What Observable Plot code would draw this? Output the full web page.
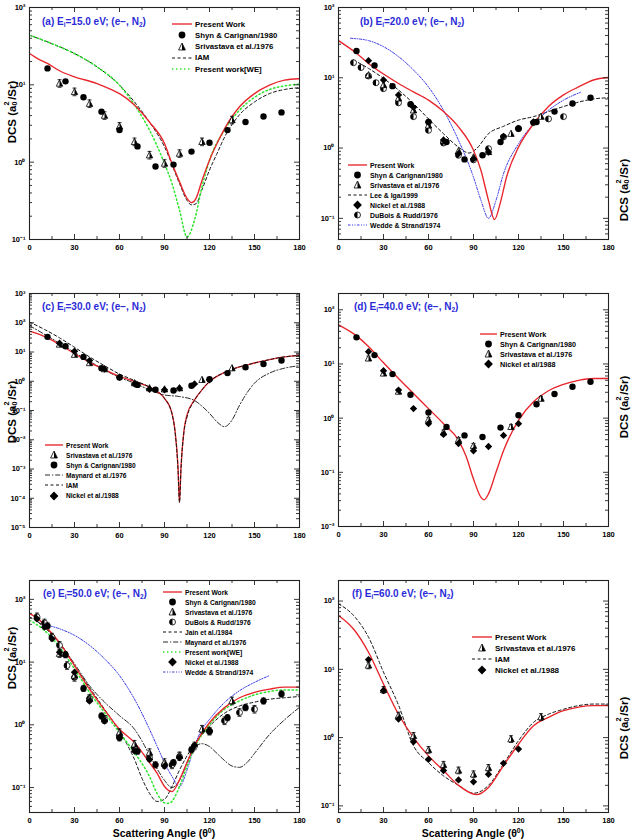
<!DOCTYPE html>
<html>
<head>
<meta charset="utf-8">
<script src="https://cdn.jsdelivr.net/npm/d3@7"></script>
<script src="https://cdn.jsdelivr.net/npm/@observablehq/plot@0.6"></script>
<style>
  body { margin: 0; background: #fff; }
  #fig { position: relative; width: 635px; height: 839px; overflow: hidden; background: #fff;
         font-family: "Liberation Sans", Arial, Helvetica, sans-serif; font-weight: bold; color: #000; }
  .panel { position: absolute; }
  .title { position: absolute; color: #2b2bd8; font-size: 10px; white-space: nowrap; transform: translateY(-50%); }
  .title sub { font-size: 6.5px; vertical-align: -2px; }
  .ylab { position: absolute; font-size: 11.5px; line-height: 1; white-space: nowrap; transform: translate(-50%, -50%) rotate(-90deg); }
  .xlab { position: absolute; font-size: 10.5px; white-space: nowrap; transform: translate(-50%, -50%); }
  .xlab sup { font-size: 7px; }
  .ss { position: relative; display: inline-block; width: 0.5em; height: 1em; }
  .ss span { position: absolute; left: 0.02em; font-size: 0.62em; line-height: 1; }
  .ss .sp { top: 0; }
  .ss .sb { top: 1.1em; }
  .leg { position: absolute; white-space: nowrap; display: flex; align-items: center; transform: translateY(-50%); }
  .leg svg { margin-right: 3px; flex: none; }
</style>
</head>
<body>
<div id="fig"></div>
<script>
// ---------- data: [scattering angle (deg), DCS (a0^2/sr)] ----------
// (a) 15 eV
const aPresent = [[0,25.4],[6,21.5],[12,18.9],[20,15.2],[30,12.7],[45,10.4],[55,8.6],[60,7.7],[70,5.5],[80,3.3],[90,1.74],[95,0.96],[100,0.56],[105,0.34],[108,0.30],[111,0.34],[115,0.58],[120,1.06],[125,1.74],[130,2.7],[140,5.2],[150,7.7],[160,9.9],[170,11.5],[180,12.0]];
const aIAM = [[0,43.9],[15,34],[30,25.4],[45,17.1],[60,9.9],[70,6.0],[80,3.3],[90,1.58],[100,0.53],[105,0.32],[108,0.28],[111,0.29],[115,0.44],[120,0.79],[125,1.29],[130,2.1],[140,4.1],[150,6.0],[160,7.7],[170,8.7],[180,9.2]];
const aWE = [[0,43.9],[15,34],[30,25.4],[45,17.1],[60,9.9],[70,5.5],[80,2.6],[90,0.96],[95,0.53],[100,0.24],[105,0.108],[110,0.178],[115,0.48],[120,1.06],[130,2.6],[140,4.7],[150,6.9],[160,8.7],[170,9.7],[180,10.2]];
const aShyn = [[12,16.3],[24,11.1],[36,6.9],[48,4.5],[60,2.6],[72,1.6],[84,0.88],[96,0.93],[108,1.37],[120,1.78],[132,2.6],[144,3.3],[156,3.9],[168,4.4]];
const aSriv = [[20,10.4],[30,8.1],[40,5.7],[50,4.0],[60,2.9],[70,1.83],[80,1.23],[90,0.96],[100,1.29],[115,1.83],[135,3.5]];

// (b) 20 eV
const bPresent = [[0,33.8],[12,22.3],[20,16.0],[30,11.3],[40,8.3],[50,6.3],[60,4.8],[70,3.3],[80,2.0],[90,0.93],[95,0.48],[100,0.18],[104,0.096],[108,0.17],[112,0.385],[120,1.03],[130,2.2],[140,3.9],[150,5.7],[160,7.4],[170,9.3],[180,10.1]];
const bWedde = [[8,36.5],[20,33.8],[30,27.7],[40,20],[50,12.9],[60,7.4],[70,3.45],[80,1.29],[90,0.385],[95,0.18],[100,0.10],[105,0.18],[110,0.43],[120,1.15],[130,2.2],[140,3.45],[150,4.8],[162,6.3]];
const bLee = [[10,17.9],[20,13.6],[30,9.8],[40,6.7],[50,4.3],[60,2.6],[70,1.6],[80,1.03],[87,0.85],[92,0.98],[100,1.6],[110,2.04],[120,2.5],[130,2.8],[140,3.3],[150,3.9],[160,4.5],[170,5.0],[180,5.2]];
const bShyn = [[12,24],[24,15],[36,7.6],[48,4.2],[60,2.35],[72,1.22],[84,0.69],[96,0.79],[108,1.22],[120,1.89],[132,2.35],[144,3.3],[156,4.3],[168,5.2]];
const bSriv = [[20,10.9],[30,7.9],[40,5.1],[50,3.45],[60,2.1],[70,1.29],[80,0.91],[90,0.74],[100,0.88],[115,1.6],[135,2.8]];
const bNickel = [[20,17.5],[30,9.3],[40,5.7],[50,3.8],[60,2.35],[70,1.3],[80,0.83],[90,0.70],[100,0.88],[110,1.47],[120,1.9],[130,2.35]];
const bDuBois = [[10,16.4],[15,14],[20,10.6],[25,8.5],[30,7.0],[40,4.4],[50,2.8],[60,1.79],[70,1.18],[80,0.79],[90,0.68],[100,0.98],[110,1.44],[120,1.9],[130,2.3],[140,2.6],[150,2.8]];

// (c) 30 eV
const cPresent = [[0,51.8],[12,30.5],[20,18],[30,8.8],[40,4.4],[50,2.5],[60,1.46],[70,0.98],[80,0.63],[85,0.45],[90,0.26],[95,0.08],[97,0.021],[99,0.00115],[100,0.000072],[101,0.00115],[103,0.021],[105,0.07],[110,0.23],[115,0.51],[120,0.98],[130,2.0],[140,3.1],[150,4.2],[160,5.5],[170,6.8],[180,7.7]];
const cIAM = [[0,106],[10,59],[20,30.5],[30,14.5],[40,6.8],[50,3.4],[60,1.76],[70,1.06],[80,0.63],[90,0.26],[95,0.076],[97,0.019],[99,0.001],[100,0.000072],[101,0.001],[103,0.019],[105,0.06],[110,0.22],[115,0.51],[120,0.98],[130,2.0],[140,3.1],[150,4.2],[160,5.5],[170,6.8],[180,7.7]];
const cMaynard = [[0,80],[20,20],[40,4.8],[60,1.35],[70,0.86],[80,0.51],[90,0.34],[100,0.30],[110,0.22],[115,0.14],[120,0.08],[125,0.041],[130,0.028],[135,0.047],[140,0.15],[150,0.86],[160,1.9],[170,2.8],[180,3.4]];
const cShyn = [[12,33],[24,15.8],[36,6.8],[48,2.8],[60,1.35],[72,0.75],[84,0.51],[96,0.48],[108,0.70],[120,1.18],[132,1.9],[144,3.0],[156,3.9],[168,5.1]];
const cSriv = [[20,18],[30,8.1],[40,4.2],[50,2.6],[70,0.86],[80,0.58],[90,0.53],[100,0.58],[115,1.12],[135,2.8]];
const cNickel = [[20,20],[30,10.6],[40,5.1],[50,2.6],[60,1.38],[70,0.81],[80,0.53],[90,0.51],[100,0.58],[110,0.81],[120,1.12]];

// (d) 40 eV
const dPresent = [[0,52.7],[12,33],[20,21],[30,10.5],[40,5.4],[50,2.85],[60,1.5],[70,0.79],[80,0.39],[85,0.2],[90,0.075],[95,0.0345],[97,0.031],[100,0.04],[105,0.1],[110,0.25],[120,0.91],[130,2.0],[140,3.2],[150,4.2],[160,5.0],[170,5.4],[180,5.4]];
const dShyn = [[12,31],[24,14.6],[36,6.5],[48,2.7],[60,1.27],[72,0.69],[84,0.48],[96,0.45],[108,0.67],[120,1.13],[132,1.8],[144,2.8],[156,3.8],[168,4.7]];
const dSriv = [[20,12.7],[30,6.7],[40,3.1],[60,0.94],[70,0.55],[80,0.40],[90,0.31],[115,0.69],[135,2.3]];
const dNickel = [[20,16.9],[30,7.5],[40,3.3],[50,1.5],[60,0.79],[70,0.50],[80,0.34],[90,0.25],[100,0.30],[110,0.48],[120,0.79]];

// (e) 50 eV
const ePresent = [[0,59.5],[5,50.7],[10,38.7],[20,20.4],[30,8.8],[40,3.7],[50,1.73],[60,0.85],[70,0.52],[80,0.25],[85,0.17],[90,0.104],[95,0.086],[100,0.133],[105,0.25],[110,0.46],[120,1.08],[130,1.88],[140,2.7],[150,3.3],[160,3.7],[170,4.0],[180,4.0]];
const eWE = [[0,46.6],[10,32],[20,17.4],[30,7.8],[40,3.3],[50,1.57],[60,0.75],[70,0.36],[80,0.15],[85,0.081],[90,0.057],[93,0.056],[97,0.072],[100,0.104],[105,0.22],[110,0.43],[120,1.0],[130,1.77],[140,2.4],[150,3.0],[160,3.4],[170,3.6],[180,3.6]];
const eJain = [[0,52.6],[10,36],[20,19.6],[30,8.8],[40,3.95],[50,1.77],[60,0.79],[65,0.49],[70,0.28],[75,0.14],[80,0.081],[85,0.06],[90,0.065],[95,0.104],[100,0.19],[105,0.32],[110,0.49],[120,0.95],[130,1.53],[140,2.0],[150,2.3],[160,2.56],[170,2.7],[180,2.83]];
const eMaynard = [[5,45],[10,36],[20,20.4],[30,9.4],[40,4.2],[50,2.3],[60,1.4],[70,0.85],[75,0.55],[80,0.33],[85,0.2],[90,0.13],[95,0.1],[100,0.13],[105,0.25],[110,0.45],[115,0.5],[120,0.45],[125,0.35],[130,0.27],[135,0.22],[140,0.21],[145,0.25],[150,0.35],[160,0.7],[170,1.2],[180,1.9]];
const eWedde = [[12,38.7],[20,34],[30,26.7],[40,18.5],[50,11.3],[60,6.1],[70,2.56],[80,0.85],[85,0.46],[90,0.25],[95,0.15],[100,0.104],[105,0.19],[110,0.46],[115,0.85],[120,1.22],[130,2.27],[140,3.5],[150,4.75],[160,6.1]];
const eShyn = [[12,37.8],[24,13.1],[36,3.8],[48,1.38],[60,0.62],[72,0.38],[84,0.23],[96,0.25],[108,0.40],[120,0.79],[132,1.3],[144,1.88],[156,2.4],[168,3.1]];
const eSriv = [[20,13.6],[30,6.1],[40,2.6],[50,1.22],[60,0.75],[70,0.49],[80,0.36],[90,0.25],[100,0.32],[115,0.85],[135,2.4]];
const eDuBois = [[5,52.6],[10,42],[15,25],[20,18.5],[25,8.8],[30,5.7],[40,2.6],[50,1.22],[60,0.67],[70,0.43],[80,0.3],[90,0.23],[95,0.23],[100,0.31],[110,0.46],[120,0.79],[130,1.16],[140,1.57],[150,1.77]];
const eNickel = [[5,49],[10,36],[15,23.6],[20,14.4],[30,6.9],[40,2.4],[50,1.15],[60,0.62],[70,0.38],[80,0.28],[90,0.22],[100,0.3],[110,0.47],[120,0.79]];

// (f) 60 eV
const fPresent = [[0,61.6],[10,39],[20,17.8],[30,6.1],[40,2.2],[50,1.0],[60,0.54],[70,0.33],[80,0.2],[92,0.146],[100,0.186],[110,0.39],[120,0.8],[130,1.49],[140,1.98],[150,2.48],[160,2.8],[170,2.94],[180,2.94]];
const fIAM = [[0,91],[10,61.6],[20,29.6],[30,9.1],[40,3.0],[50,0.76],[60,0.43],[70,0.275],[80,0.2],[90,0.153],[100,0.2],[110,0.41],[120,0.9],[130,1.67],[140,2.2],[150,2.6],[160,2.94],[170,3.1],[180,3.1]];
const fSriv = [[20,11.4],[30,5.0],[40,2.1],[50,1.06],[60,0.66],[70,0.40],[80,0.33],[90,0.29],[100,0.36],[115,0.95],[135,2.0]];
const fNickel = [[20,13.9],[30,4.9],[40,1.87],[50,0.87],[60,0.48],[70,0.33],[80,0.24],[90,0.225],[100,0.29],[110,0.42],[120,0.68]];

// axis ticks
const xMajor = [0, 30, 60, 90, 120, 150, 180];
const xMinor = [15, 45, 75, 105, 135, 165];

// ---------- styles ----------
const lineStyles = {
  present: {stroke: "#e8252b", strokeWidth: 1.35},
  dashed:  {stroke: "#111", strokeWidth: 1, strokeDasharray: "3,2.5"},
  we:      {stroke: "#2ee62e", strokeWidth: 1.5, strokeDasharray: "1.4,2.6"},
  maynard: {stroke: "#111", strokeWidth: 0.9, strokeDasharray: "5,2,1.2,2"},
  wedde:   {stroke: "#3a3ae8", strokeWidth: 1, strokeDasharray: "2.5,1.5,1,1.5,1,1.5"}
};

const triOpen = {draw(ctx, size) { const r = Math.sqrt(size / Math.PI) * 1.15;
  ctx.moveTo(0, -r); ctx.lineTo(r * 0.9, r * 0.75); ctx.lineTo(-r * 0.9, r * 0.75); ctx.closePath(); }};
const triHalf = {draw(ctx, size) { const r = Math.sqrt(size / Math.PI) * 1.15;
  ctx.moveTo(0, -r); ctx.lineTo(r * 0.9, r * 0.75); ctx.lineTo(0, r * 0.75); ctx.closePath(); }};
const halfLeft = {draw(ctx, size) { const r = Math.sqrt(size / Math.PI);
  ctx.moveTo(0, -r); ctx.arc(0, 0, r, -Math.PI / 2, Math.PI / 2, true); ctx.closePath(); }};
const capSym = {draw(ctx) { ctx.moveTo(-2, 0); ctx.lineTo(2, 0); }};

const X = d => d[0], Y = d => d[1];

function errBars(data, f) {
  return [
    Plot.ruleX(data, {x: X, y1: d => d[1] / f, y2: d => d[1] * f, stroke: "#000", strokeWidth: 0.8}),
    Plot.dot(data, {x: X, y: d => d[1] / f, symbol: capSym, r: 2, stroke: "#000", strokeWidth: 0.8}),
    Plot.dot(data, {x: X, y: d => d[1] * f, symbol: capSym, r: 2, stroke: "#000", strokeWidth: 0.8})
  ];
}

function pointMarks(kind, data, bars) {
  const eb = bars ? errBars(data, bars) : [];
  switch (kind) {
    case "shyn":   return [...eb, Plot.dot(data, {x: X, y: Y, r: 3.2, fill: "#000", symbol: "circle"})];
    case "nickel": return [...eb, Plot.dot(data, {x: X, y: Y, r: 3.3, fill: "#000", symbol: "diamond2"})];
    case "sriv":   return [...eb,
      Plot.dot(data, {x: X, y: Y, r: 3.1, symbol: triOpen, fill: "#fff", stroke: "#000", strokeWidth: 0.8}),
      Plot.dot(data, {x: X, y: Y, r: 3.1, symbol: triHalf, fill: "#000"})];
    case "dubois": return [...eb,
      Plot.dot(data, {x: X, y: Y, r: 3, symbol: "circle", fill: "#fff", stroke: "#000", strokeWidth: 0.8}),
      Plot.dot(data, {x: X, y: Y, r: 3, symbol: halfLeft, fill: "#000"})];
  }
  return [];
}

const supMap = {"-": "\u207B", "0": "\u2070", "1": "\u00B9", "2": "\u00B2", "3": "\u00B3", "4": "\u2074", "5": "\u2075"};
const powLabel = v => "10" + String(Math.round(Math.log10(v))).split("").map(c => supMap[c]).join("");

function drawPanel(p) {
  const [mt, mr, mb, ml] = p.margin;
  const fw = p.width - ml - mr, fh = p.height - mt - mb;
  const lo = Math.log10(p.yDomain[0]), hi = Math.log10(p.yDomain[1]);
  const majors = d3.range(Math.ceil(lo - 1e-9), Math.floor(hi + 1e-9) + 1).map(e => +(`1e${e}`));
  const minors = [];
  for (let e = Math.floor(lo); e <= Math.ceil(hi); e++)
    for (let m = 2; m <= 9; m++) { const v = +(`${m}e${e}`); if (v >= p.yDomain[0] && v <= p.yDomain[1]) minors.push(v); }
  const tk = {stroke: "#222", strokeWidth: 0.9};
  const marks = [
    ...p.lines.map(([style, data]) => Plot.line(data, {x: X, y: Y, curve: "monotone-x", clip: true, ...lineStyles[style]})),
    ...p.points.flatMap(([kind, data, bars]) => pointMarks(kind, data, bars)),
    Plot.frame({stroke: "#222", strokeWidth: 1.1}),
    Plot.tickY(majors, {y: d => d, insetRight: fw - 5, ...tk}),
    Plot.tickY(majors, {y: d => d, insetLeft: fw - 5, ...tk}),
    Plot.tickY(minors, {y: d => d, insetRight: fw - 3, ...tk}),
    Plot.tickY(minors, {y: d => d, insetLeft: fw - 3, ...tk}),
    Plot.tickX(xMajor, {x: d => d, insetTop: fh - 5, ...tk}),
    Plot.tickX(xMajor, {x: d => d, insetBottom: fh - 5, ...tk}),
    Plot.tickX(xMinor, {x: d => d, insetTop: fh - 3, ...tk}),
    Plot.tickX(xMinor, {x: d => d, insetBottom: fh - 3, ...tk}),
    Plot.axisY({ticks: majors, tickSize: 0, tickPadding: 4, tickFormat: powLabel, label: null}),
    Plot.axisX({ticks: xMajor, tickSize: 0, tickPadding: 5, tickFormat: d => String(d), label: null})
  ];
  const svg = Plot.plot({
    width: p.width, height: p.height,
    marginTop: mt, marginRight: mr, marginBottom: mb, marginLeft: ml,
    x: {domain: [0, 180]},
    y: {type: "log", domain: p.yDomain},
    style: {fontFamily: "'Liberation Sans', Arial, sans-serif", fontSize: "7.5px", fontWeight: "bold", background: "transparent", color: "#000", overflow: "visible"},
    marks
  });
  const div = document.createElement("div");
  div.className = "panel";
  div.style.left = p.left + "px";
  div.style.top = p.top + "px";
  div.appendChild(svg);
  fig.appendChild(div);
}

// ---------- legend swatches ----------
function swatch(kind, w) {
  const cx = w / 2, cy = 5;
  let body = "";
  if (lineStyles[kind]) {
    const s = lineStyles[kind];
    body = `<line x1="0" x2="${w}" y1="${cy}" y2="${cy}" stroke="${s.stroke}" stroke-width="${s.strokeWidth}" ${s.strokeDasharray ? `stroke-dasharray="${s.strokeDasharray}"` : ""}/>`;
  } else if (kind === "shyn") {
    body = `<circle cx="${cx}" cy="${cy}" r="3.4" fill="#000"/>`;
  } else if (kind === "nickel") {
    body = `<path d="M${cx},${cy - 4.4}L${cx + 4.4},${cy}L${cx},${cy + 4.4}L${cx - 4.4},${cy}Z" fill="#000"/>`;
  } else if (kind === "sriv") {
    body = `<path d="M${cx},${cy - 4}L${cx + 3.4},${cy + 3}L${cx - 3.4},${cy + 3}Z" fill="#fff" stroke="#000" stroke-width="0.8"/>` +
           `<path d="M${cx},${cy - 4}L${cx + 3.4},${cy + 3}L${cx},${cy + 3}Z" fill="#000"/>`;
  } else if (kind === "dubois") {
    body = `<circle cx="${cx}" cy="${cy}" r="3" fill="#fff" stroke="#000" stroke-width="0.8"/>` +
           `<path d="M${cx},${cy - 3}A3,3 0 0 0 ${cx},${cy + 3}Z" fill="#000"/>`;
  }
  return `<svg width="${w}" height="10" viewBox="0 0 ${w} 10">${body}</svg>`;
}

function legend(l) {
  l.items.forEach(([kind, text], i) => {
    const row = document.createElement("div");
    row.className = "leg";
    row.style.left = l.left + "px";
    row.style.top = (l.top + i * l.step) + "px";
    row.style.fontSize = l.font + "px";
    row.innerHTML = swatch(kind, l.sw) + `<span>${text}</span>`;
    fig.appendChild(row);
  });
}

function addText(cls, x, y, html) {
  const el = document.createElement("div");
  el.className = cls;
  el.style.left = x + "px";
  el.style.top = y + "px";
  el.innerHTML = html;
  fig.appendChild(el);
}

const fig = document.getElementById("fig");

const panels = [
  {left: 0, top: 0, width: 317, height: 262, margin: [7, 18, 23, 29], yDomain: [0.1, 100],
   lines: [["dashed", aIAM], ["we", aWE], ["present", aPresent]],
   points: [["sriv", aSriv, 1.12], ["shyn", aShyn]]},
  {left: 317, top: 0, width: 318, height: 262, margin: [7, 27, 23, 21], yDomain: [0.05, 100],
   lines: [["dashed", bLee], ["wedde", bWedde], ["present", bPresent]],
   points: [["dubois", bDuBois], ["sriv", bSriv], ["nickel", bNickel], ["shyn", bShyn]]},
  {left: 0, top: 280, width: 317, height: 270, margin: [13, 18, 23, 29], yDomain: [1e-5, 1e3],
   lines: [["maynard", cMaynard], ["present", cPresent], ["dashed", cIAM]],
   points: [["sriv", cSriv], ["nickel", cNickel], ["shyn", cShyn]]},
  {left: 317, top: 280, width: 318, height: 270, margin: [13, 27, 24, 21], yDomain: [0.01, 200],
   lines: [["present", dPresent]],
   points: [["shyn", dShyn], ["sriv", dSriv, 1.1], ["nickel", dNickel]]},
  {left: 0, top: 560, width: 317, height: 275, margin: [20, 18, 23, 29], yDomain: [0.04, 200],
   lines: [["maynard", eMaynard], ["dashed", eJain], ["wedde", eWedde], ["we", eWE], ["present", ePresent]],
   points: [["dubois", eDuBois, 1.15], ["sriv", eSriv, 1.15], ["nickel", eNickel], ["shyn", eShyn, 1.12]]},
  {left: 317, top: 560, width: 318, height: 275, margin: [20, 27, 23, 21], yDomain: [0.08, 200],
   lines: [["dashed", fIAM], ["present", fPresent]],
   points: [["sriv", fSriv, 1.12], ["nickel", fNickel]]}
];
panels.forEach(drawPanel);

// ---------- titles ----------
const sub = s => `<sub>${s}</sub>`;
const titleText = (tag, e) => `(${tag}) E${sub("i")}=${e} eV; (e\u2212, N${sub("2")})`;
addText("title", 42, 22, titleText("a", "15.0"));
addText("title", 360, 22, titleText("b", "20.0"));
addText("title", 42, 307, titleText("c", "30.0"));
addText("title", 354, 307, titleText("d", "40.0"));
addText("title", 43, 594, titleText("e", "50.0"));
addText("title", 352, 594, titleText("f", "60.0"));

// ---------- axis titles ----------
const dcs = `DCS (a<span class="ss"><span class="sp">2</span><span class="sb">0</span></span>/Sr)`;
addText("ylab", 11, 112, dcs);
addText("ylab", 623, 190, dcs);
addText("ylab", 11, 412, dcs);
addText("ylab", 623, 407, dcs);
addText("ylab", 11, 658, dcs);
addText("ylab", 623, 728, dcs);
addText("xlab", 164, 833, `Scattering Angle (\u03B8<sup>0</sup>)`);
addText("xlab", 473, 833, `Scattering Angle (\u03B8<sup>0</sup>)`);

// ---------- legends ----------
legend({left: 172, top: 24, step: 11.3, sw: 20, font: 7.8, items: [
  ["present", "Present Work"], ["shyn", "Shyn &amp; Carignan/1980"], ["sriv", "Srivastava et al./1976"],
  ["dashed", "IAM"], ["we", "Present work[WE]"]]});
legend({left: 348, top: 165, step: 10, sw: 19, font: 6.9, items: [
  ["present", "Present Work"], ["shyn", "Shyn &amp; Carignan/1980"], ["sriv", "Srivastava et al./1976"],
  ["dashed", "Lee &amp; Iga/1999"], ["nickel", "Nickel et al./1988"], ["dubois", "DuBois &amp; Rudd/1976"],
  ["wedde", "Wedde &amp; Strand/1974"]]});
legend({left: 45, top: 445, step: 10.1, sw: 18, font: 6.6, items: [
  ["present", "Present Work"], ["sriv", "Srivastava et al./1976"], ["shyn", "Shyn &amp; Carignan/1980"],
  ["maynard", "Maynard et al./1976"], ["dashed", "IAM"], ["nickel", "Nickel et al./1988"]]});
legend({left: 480, top: 334, step: 10, sw: 17, font: 7.2, items: [
  ["present", "Present Work"], ["shyn", "Shyn &amp; Carignan/1980"], ["sriv", "Srivastava et al./1976"],
  ["nickel", "Nickel et al/1988"]]});
legend({left: 163, top: 592, step: 10, sw: 19, font: 6.7, items: [
  ["present", "Present Work"], ["shyn", "Shyn &amp; Carignan/1980"], ["sriv", "Srivastava et al./1976"],
  ["dubois", "DuBois &amp; Rudd/1976"], ["dashed", "Jain et al./1984"], ["maynard", "Maynard et al./1976"],
  ["we", "Present work[WE]"], ["nickel", "Nickel et al./1988"], ["wedde", "Wedde &amp; Strand/1974"]]});
legend({left: 472, top: 637, step: 11, sw: 20, font: 8, items: [
  ["present", "Present Work"], ["sriv", "Srivastava et al./1976"], ["dashed", "IAM"], ["nickel", "Nickel et al./1988"]]});
</script>
</body>
</html>
